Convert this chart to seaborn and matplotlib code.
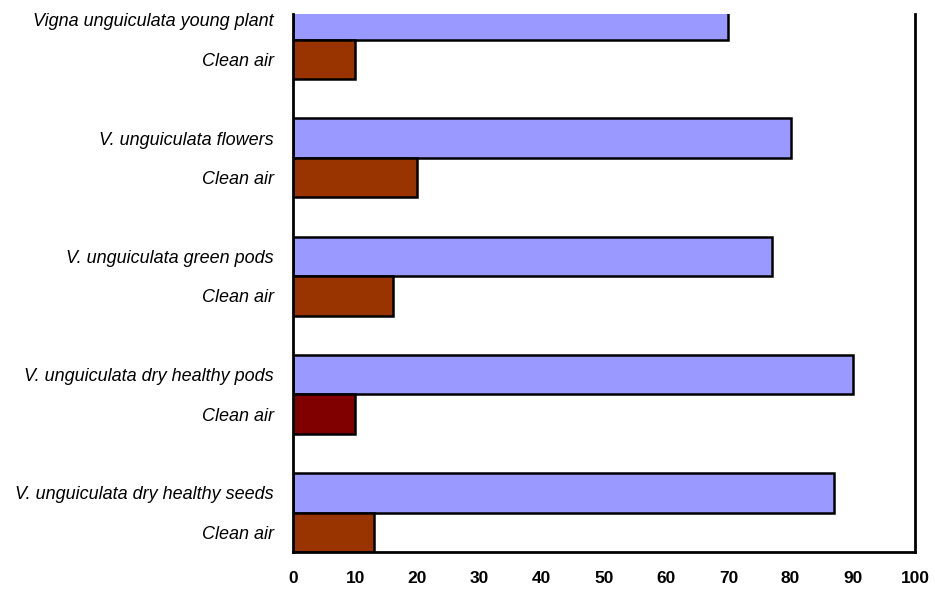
import matplotlib
matplotlib.use("Agg")
import matplotlib.pyplot as plt
import seaborn as sns
import pandas as pd

labels = [
    "Vigna unguiculata young plant", "Clean air",
    "V. unguiculata flowers", "Clean air",
    "V. unguiculata green pods", "Clean air",
    "V. unguiculata dry healthy pods", "Clean air",
    "V. unguiculata dry healthy seeds", "Clean air",
]
values = [70, 10, 80, 20, 77, 16, 90, 10, 87, 13]
colors = ["#9999FF", "#993300", "#9999FF", "#993300", "#9999FF", "#993300",
          "#9999FF", "#800000", "#9999FF", "#993300"]
x_ticks = [0, 10, 20, 30, 40, 50, 60, 70, 80, 90, 100]

# each pair of bars is followed by one empty slot
positions = [3 * (i // 2) + (i % 2) for i in range(len(values))]

df = pd.DataFrame({"value": values, "pos": positions, "key": [str(i) for i in range(len(values))]})

sns.set_style("white")
plt.rcParams["font.family"] = ["Liberation Sans", "DejaVu Sans"]
plt.rcParams["text.color"] = "black"
plt.rcParams["xtick.color"] = "black"
plt.rcParams["ytick.color"] = "black"

fig = plt.figure(figsize=(9.35, 5.91), dpi=100)
ax = fig.add_axes([293 / 935, 1 - 552 / 591, (915 - 293) / 935, (552 - 14) / 591])

sns.barplot(data=df, x="value", y="pos", hue="key", palette=colors, orient="h",
            native_scale=True, width=1.0, dodge=False, legend=False, saturation=1,
            edgecolor="black", linewidth=1.8, ax=ax)

ax.set_xlim(0, 100)
ax.set_ylim(13.5, -0.15)
ax.set_xticks(x_ticks)
ax.set_xticklabels([str(t) for t in x_ticks], fontweight="bold", fontsize=12.5)
ax.set_yticks(positions)
ax.set_yticklabels(labels, fontstyle="italic", fontsize=13)
ax.tick_params(axis="y", length=0, pad=14)
ax.tick_params(axis="x", length=6, width=2, direction="out", pad=8)
ax.set_xlabel("")
ax.set_ylabel("")

for side in ["left", "right", "bottom"]:
    ax.spines[side].set_visible(True)
    ax.spines[side].set_color("black")
    ax.spines[side].set_linewidth(2)
ax.spines["top"].set_visible(False)

fig.savefig("out.png", dpi=100)
